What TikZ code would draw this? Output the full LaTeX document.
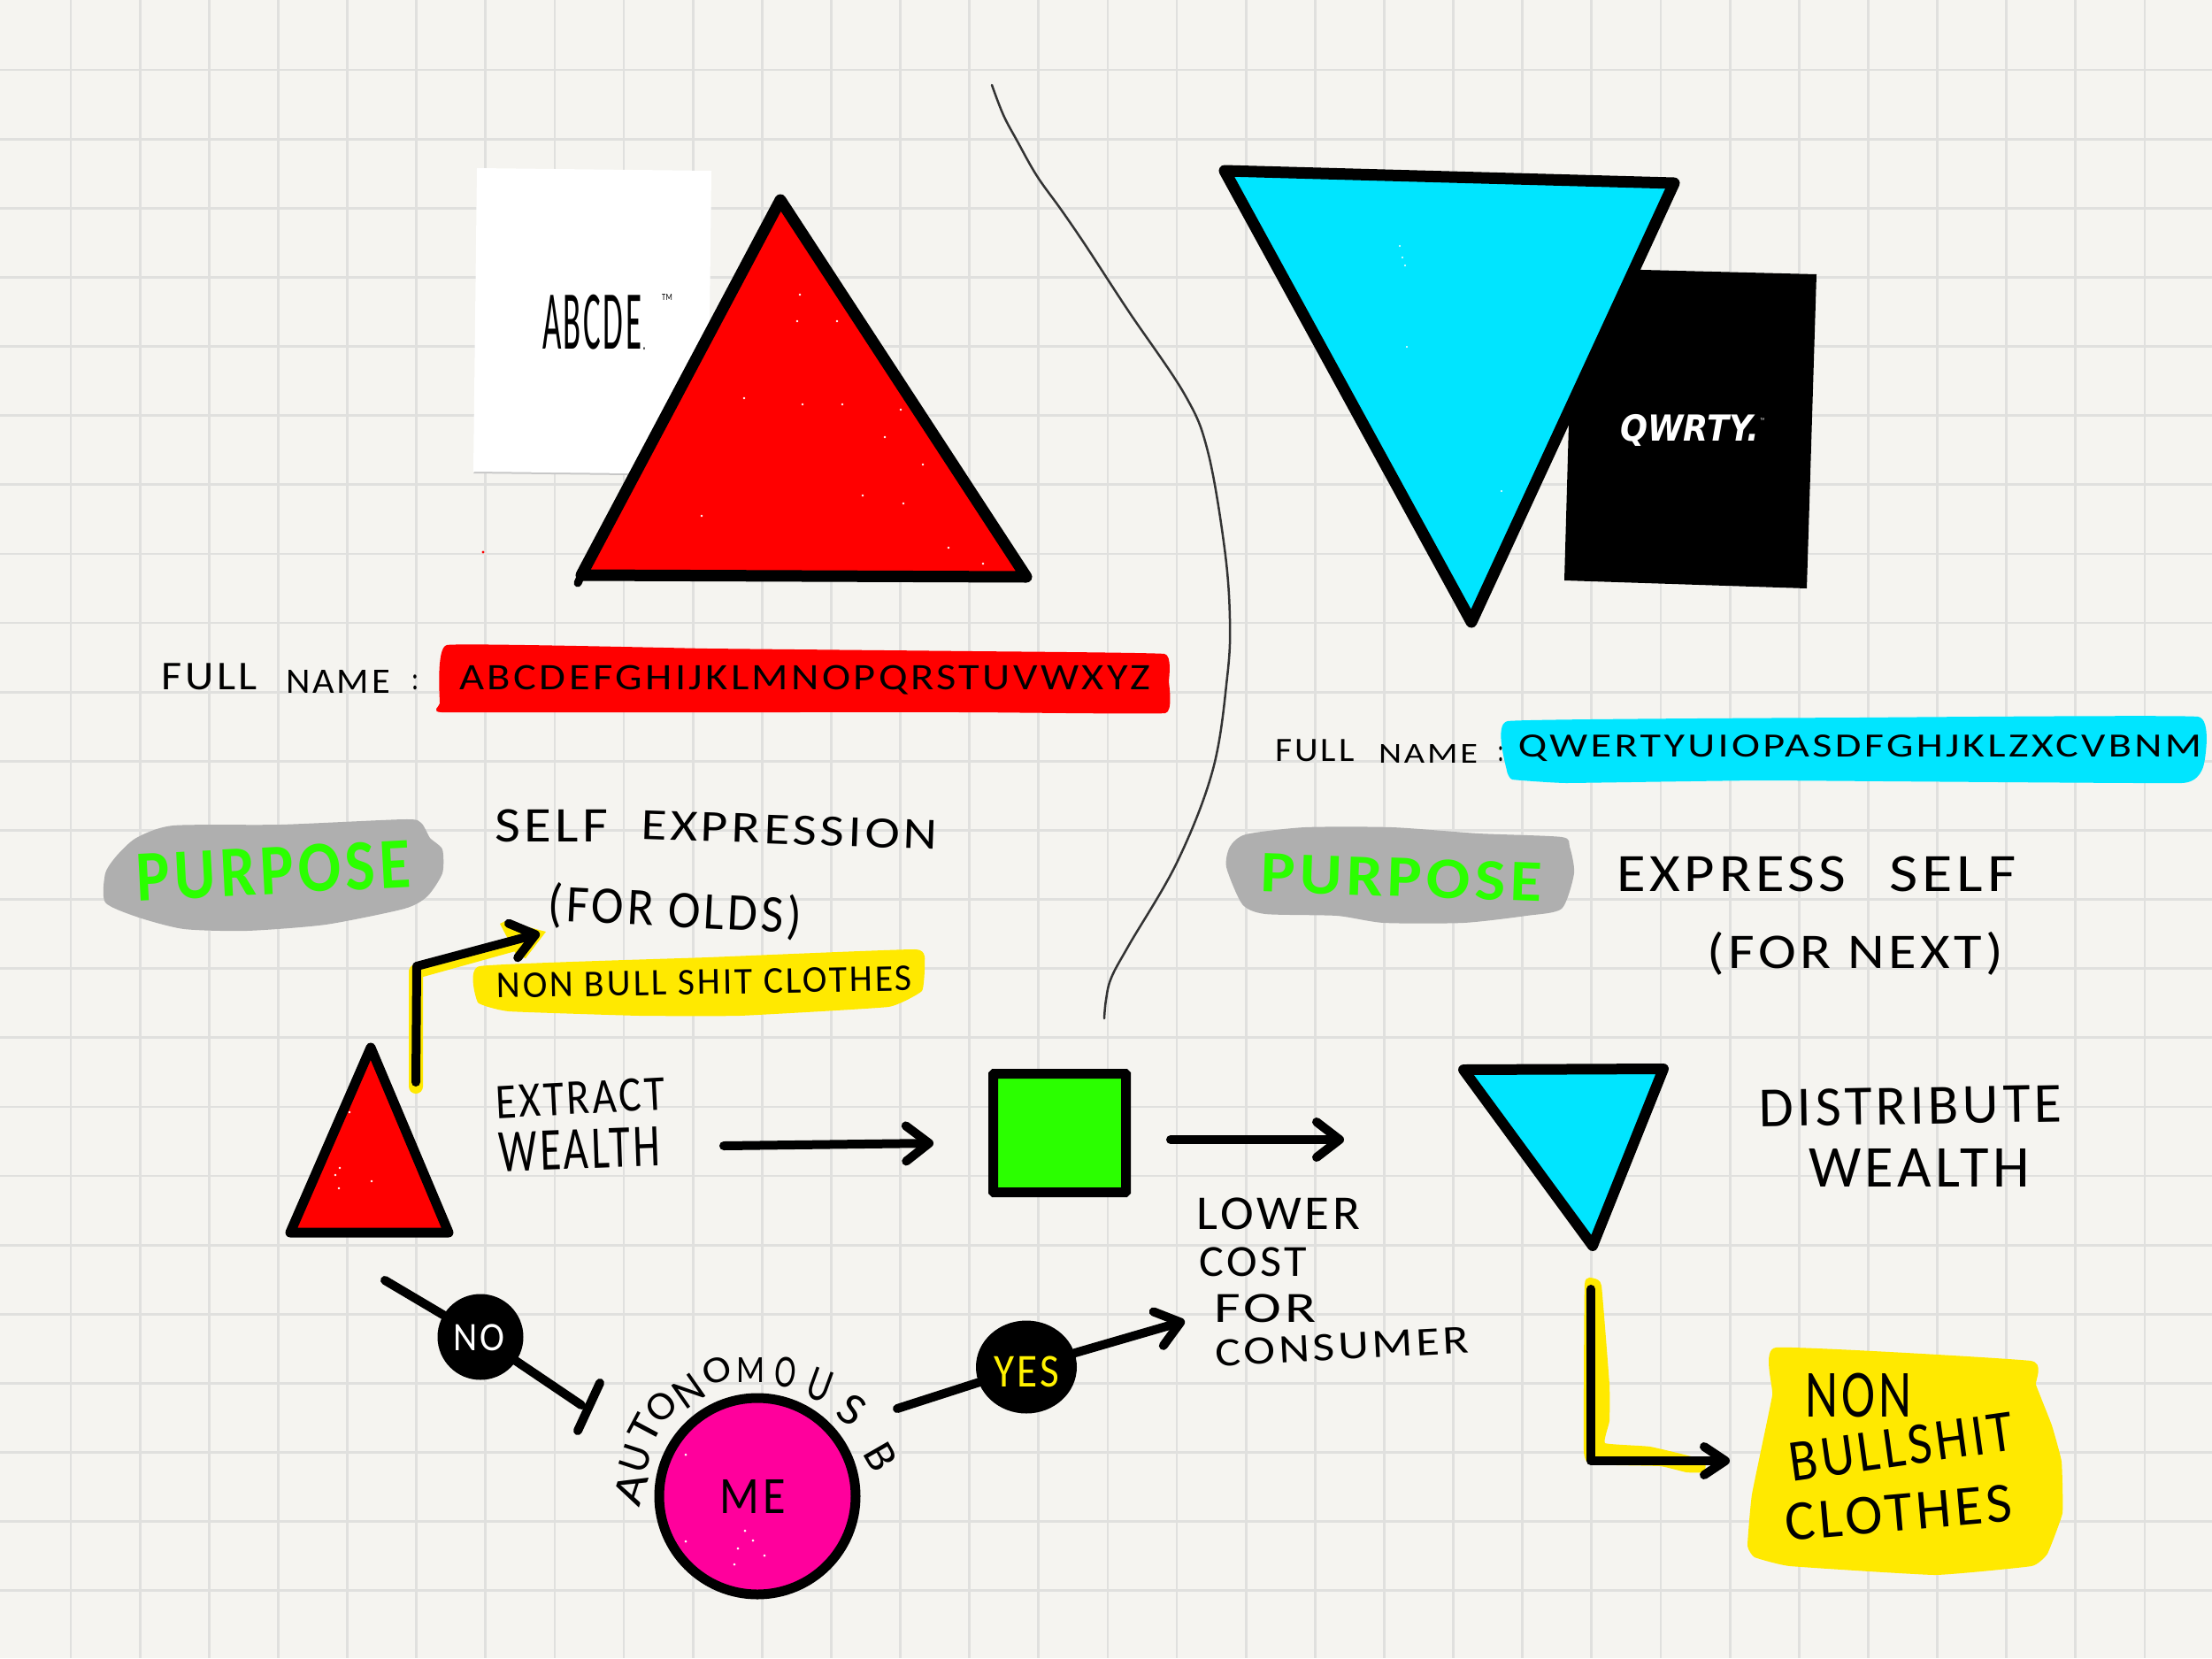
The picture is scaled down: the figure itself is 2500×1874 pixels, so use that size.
\documentclass[tikz,border=0pt]{standalone}
\usepackage{fontspec}
\usepackage{graphicx}
\usetikzlibrary{arrows.meta,shapes.geometric}
\newfontfamily\handfont{Carlito}[LetterSpace=7]
\newfontfamily\logofont{DejaVu Sans}
\newcommand\hw[3]{\resizebox*{#1pt}{#2pt}{\handfont #3}}
\definecolor{paper}{HTML}{F5F4F0}
\definecolor{gridc}{HTML}{E0E0DE}
\definecolor{hired}{HTML}{FF0000}
\definecolor{hicyan}{HTML}{00E5FF}
\definecolor{hiyellow}{HTML}{FFE900}
\definecolor{himag}{HTML}{FF009C}
\definecolor{higreen}{HTML}{2BFF00}
\definecolor{higrey}{HTML}{AFAFAF}
\tikzset{
  hand/.style={inner sep=0pt,outer sep=0pt,text=black},
  gridline/.style={gridc,line width=2.8pt},
  shapeline/.style={draw=black,line width=13pt,line join=round,line cap=round},
  wire/.style={draw=black,line width=10pt,line cap=round,line join=round},
  tipped/.style={wire,-{Straight Barb[round,length=26pt,width=40pt]}},
  glow/.style={hiyellow,line width=16pt,line cap=round,line join=round},
  blob/.style={ellipse,fill=black,inner sep=0pt,outer sep=0pt},
  speck/.style={fill=white},
}
\begin{document}
\begin{tikzpicture}[x=1pt,y=-1pt]
\useasboundingbox (0,0) rectangle (2500,1874);
\fill[paper] (0,0) rectangle (2500,1874);
\foreach \i in {0,...,31} \draw[gridline] ({80+78.13*\i},0) -- ({80+78.13*\i},1874);
\foreach \i in {0,...,23} \draw[gridline] (0,{79+78.13*\i}) -- (2500,{79+78.13*\i});

% divider
\draw[line width=2.5pt,color=black!80,line cap=round] plot[smooth,tension=0.6] coordinates {(1121,96) (1134,130) (1150,160) (1172,199) (1200,238) (1228,279) (1275,351) (1339,446) (1365,510) (1384,620) (1390,700) (1387,765) (1371,869) (1331,973) (1276,1068) (1256,1105) (1250,1130) (1248,1151)};

% white card
\fill[black!22] (537,532) -- (800,535) -- (800,538) -- (535,535) -- cycle;
\fill[white] (539,190) -- (804,193) -- (800,536) -- (535,533) -- cycle;
\node[hand] (abcde) at (669,364) {\hw{112}{62}{ABCDE}};
\node[hand] (abcdedot) at (728,394) {\hw{3}{3}{.}};
\node[hand] (abcdetm) at (754,336) {\hw{12}{7}{TM}};

% red triangle
\coordinate (rt) at (882,226);
\coordinate (rl) at (657,650);
\coordinate (rr) at (1160,652);
\filldraw[shapeline,fill=hired] (rt) -- (rr) -- (rl) -- cycle;
\draw[shapeline,line width=9pt] (rl) -- (653,659);
\foreach \p in {(904,333),(901,363),(946,363),(841,450),(907,457),(952,457),(1018,463),(1000,494),(1043,525),(975,560),(1021,569),(793,583),(1072,619),(1111,637)}
  \fill[speck] \p circle (1.4);
\fill[hired] (546,624) circle (1.6);

% black card
\fill[black] (1778,303) -- (2053,310) -- (2042,665) -- (1768,656) -- cycle;
\node[inner sep=0pt,text=white] (qwrty) at (1910,486) {\resizebox*{157pt}{36pt}{\logofont\bfseries\itshape QWRTY.}};
\node[inner sep=0pt,text=white] (qwrtytm) at (1992,474) {\resizebox*{5pt}{3pt}{\handfont TM}};

% cyan triangle
\coordinate (ct) at (1384,193);
\coordinate (cr) at (1892,207);
\coordinate (cb) at (1663,703);
\filldraw[shapeline,fill=hicyan] (ct) -- (cr) -- (cb) -- cycle;
\foreach \p in {(1585,291),(1588,300),(1582,278),(1590,392),(1697,555)}
  \fill[speck] \p circle (1.2);

% full name left
\node[hand] (fullL) at (237,765) {\hw{108}{30}{FULL}};
\node[hand] (nameL) at (382,770) {\hw{118}{26}{NAME}};
\node[hand] (colonL) at (469,771) {\hw{8}{17}{:}};
\fill[hired] plot[smooth cycle,tension=0.15] coordinates {(505,729) (800,733) (1100,736) (1316,739) (1321,770) (1317,806) (1100,805) (800,805) (499,805) (497,795)};
\node[hand] (alpha) at (910,769) {\hw{781}{33}{ABCDEFGHIJKLMNOPQRSTUVWXYZ}};

% full name right
\node[hand] (fullR) at (1486,848) {\hw{89}{25}{FULL}};
\node[hand] (nameR) at (1614,852) {\hw{112}{21}{NAME}};
\fill[hicyan] plot[smooth cycle,tension=0.15] coordinates {(1704,815) (2100,811) (2484,810) (2491,863) (2466,885) (1993,882) (1770,885) (1709,881) (1703,871)};
\node[hand] (colonR) at (1696,852) {\hw{7}{17}{:}};
\node[hand] (qwerty) at (2102,846) {\hw{772}{30}{QWERTYUIOPASDFGHJKLZXCVBNM}};

% purpose left
\fill[higrey] plot[smooth cycle,tension=0.4] coordinates {(154,947) (196,933) (317,932) (457,926) (476,930) (486,947) (500,960) (500,987) (483,1013) (457,1027) (368,1045) (279,1052) (208,1050) (157,1037) (119,1020) (119,987) (132,967)};
\node[hand,text=higreen,rotate=3] (purposeL) at (309,984) {\resizebox*{310pt}{54pt}{\handfont\bfseries PURPOSE}};
\node[hand] (selfL) at (623,933) {\hw{128}{37}{SELF}};
\node[hand,rotate=-2] (exprL) at (892,938) {\hw{335}{33}{EXPRESSION}};
\node[hand,rotate=-3] (oldsL) at (763,1030) {\hw{287}{52}{(FOR OLDS)}};

% purpose right
\fill[higrey] plot[smooth cycle,tension=0.4] coordinates {(1408,943) (1475,935) (1573,935) (1671,942) (1765,946) (1774,957) (1779,987) (1765,1027) (1725,1035) (1654,1043) (1564,1043) (1511,1035) (1430,1033) (1404,1022) (1386,980) (1390,957)};
\node[hand,text=higreen,rotate=-2] (purposeR) at (1584,992) {\resizebox*{317pt}{44pt}{\handfont\bfseries PURPOSE}};
\node[hand] (exprR) at (1957,988) {\hw{259}{40}{EXPRESS}};
\node[hand] (selfR) at (2207,988) {\hw{143}{40}{SELF}};
\node[hand] (nextR) at (2097,1078) {\hw{335}{49}{(FOR NEXT)}};

% left small triangle
\coordinate (st) at (419,1184);
\coordinate (sl) at (328,1393);
\coordinate (sr) at (507,1393);
\filldraw[shapeline,line width=11pt,fill=hired] (st) -- (sr) -- (sl) -- cycle;
\foreach \p in {(395,1257),(383,1343),(420,1335),(384,1320),(379,1328)}
  \fill[speck] \p circle (1.3);

% yellow bar + arrow to it
\coordinate (upS) at (470,1223);
\coordinate (upC) at (471,1092);
\coordinate (upT) at (610,1055);
\draw[glow] (470,1228) -- (470,1098) -- (585,1066);
\fill[hiyellow] (565,1044) -- (571,1041) -- (617,1053) -- (594,1083) -- (584,1080) -- cycle;
\draw[tipped] (upS) -- (upC) -- (upT);
\fill[hiyellow] plot[smooth cycle,tension=0.2] coordinates {(542,1092) (800,1082) (1035,1073) (1045,1090) (1042,1120) (1004,1138) (836,1148) (723,1148) (575,1143) (540,1133)};
\node[hand,rotate=1] (nbc) at (796,1110) {\hw{470}{28}{NON BULL SHIT CLOTHES}};

% extract wealth
\node[hand,rotate=3] (extract) at (656,1241) {\hw{192}{37}{EXTRACT}};
\node[hand,rotate=2] (wealthL) at (655,1299) {\hw{183}{44}{WEALTH}};
\coordinate (ewS) at (818,1295);
\coordinate (ewT) at (1055,1292);
\draw[tipped] (ewS) -- (ewT);

% green square
\node[draw=black,fill=higreen,line width=11pt,rounded corners=1pt,minimum width=150pt,minimum height=134pt,inner sep=0pt,outer sep=0pt] (square) at (1197.5,1280.5) {};
\coordinate (gS) at (1323,1288);
\coordinate (gT) at (1519,1288);
\draw[tipped] (gS) -- (gT);

% right small triangle
\coordinate (tl) at (1654,1209);
\coordinate (tr) at (1880,1208);
\coordinate (tb) at (1800,1408);
\filldraw[shapeline,line width=12pt,fill=hicyan] (tl) -- (tr) -- (tb) -- cycle;
\node[hand,rotate=1] (distrib) at (2159,1250) {\hw{342}{42}{DISTRIBUTE}};
\node[hand] (wealthR) at (2169,1320) {\hw{250}{43}{WEALTH}};

% lower cost
\node[hand] (lower) at (1445,1372) {\hw{185}{36}{LOWER}};
\node[hand] (cost) at (1416,1426) {\hw{122}{33}{COST}};
\node[hand] (forc) at (1430,1479) {\hw{116}{32}{FOR}};
\node[hand,rotate=3] (consumer) at (1517,1522) {\hw{286}{30}{CONSUMER}};

% yellow L arrow
\fill[hiyellow] plot[smooth cycle,tension=0.2] coordinates {(1791,1451) (1802,1445) (1810,1453) (1819,1565) (1819,1606) (1814,1631) (1865,1635) (1926,1650) (1926,1664) (1906,1664) (1876,1657) (1799,1655) (1790,1640)};
\coordinate (lS) at (1798,1457);
\coordinate (lC) at (1798,1651);
\coordinate (lT) at (1955,1651);
\draw[tipped,-{Straight Barb[round,length=24pt,width=32pt]}] (lS) -- (lC) -- (lT);

% yellow card
\fill[hiyellow] plot[smooth cycle,tension=0.2] coordinates {(2007,1523) (2295,1538) (2301,1565) (2319,1611) (2330,1652) (2331,1710) (2314,1756) (2296,1770) (2187,1780) (2023,1770) (1983,1760) (1975,1747) (1980,1689) (2003,1577)};
\node[hand] (cardA) at (2100,1577) {\hw{120}{50}{NON}};
\node[hand,rotate=8] (cardB) at (2149,1635) {\hw{255}{44}{BULLSHIT}};
\node[hand,rotate=5] (cardC) at (2146,1710) {\hw{257}{42}{CLOTHES}};

% NO
\coordinate (noS) at (435,1447);
\coordinate (noE) at (657,1588);
\coordinate (barA) at (678,1563);
\coordinate (barB) at (653,1617);
\node[blob,minimum width=97pt,minimum height=97pt] (noB) at (543,1511) {};
\draw[wire] (noS) -- (noB);
\draw[wire] (noB) -- (noE);
\draw[wire] (barA) -- (barB);
\node[hand,text=white] (noT) at (541,1512) {\hw{58}{30}{NO}};

% YES
\coordinate (yesS) at (1014,1592);
\coordinate (yesT) at (1339,1493);
\node[blob,minimum width=114pt,minimum height=105pt] (yesB) at (1160,1545) {};
\draw[wire] (yesS) -- (yesB);
\draw[tipped] (yesB) -- (yesT);
\node[hand,text=yellow] (yesL) at (1160,1550) {\hw{74}{35}{YES}};

% ME circle
\node[circle,draw=black,fill=himag,line width=11pt,minimum size=222pt,inner sep=0pt,outer sep=0pt] (me) at (856,1691) {};
\node[hand] (meT) at (851,1691) {\hw{74}{38}{ME}};
\foreach \p in {(842,1730),(775,1742),(834,1750),(830,1768),(851,1741),(864,1758),(775,1644)}
  \fill[speck] \p circle (1.5);

% autonomous
\node[hand,rotate=72] (l1) at (713,1682) {\hw{36}{32}{A}};
\node[hand,rotate=72] (l2) at (718,1648) {\hw{30}{32}{U}};
\node[hand,rotate=62] (l3) at (729,1615) {\hw{28}{32}{T}};
\node[hand,rotate=45] (l4) at (747,1590) {\hw{32}{30}{O}};
\node[hand,rotate=35] (l5) at (778,1572) {\hw{32}{32}{N}};
\node[hand,rotate=22] (l6) at (810,1549) {\hw{32}{28}{O}};
\node[hand,rotate=0] (l7) at (848,1548) {\hw{32}{28}{M}};
\node[hand,rotate=-5] (l8) at (888,1551) {\hw{24}{34}{O}};
\node[hand,rotate=-20] (l9) at (927,1565) {\hw{26}{36}{U}};
\node[hand,rotate=-35] (l10) at (963,1593) {\hw{26}{34}{S}};
\node[hand,rotate=-60] (l11) at (995,1647) {\hw{28}{32}{B}};
\end{tikzpicture}
\end{document}
